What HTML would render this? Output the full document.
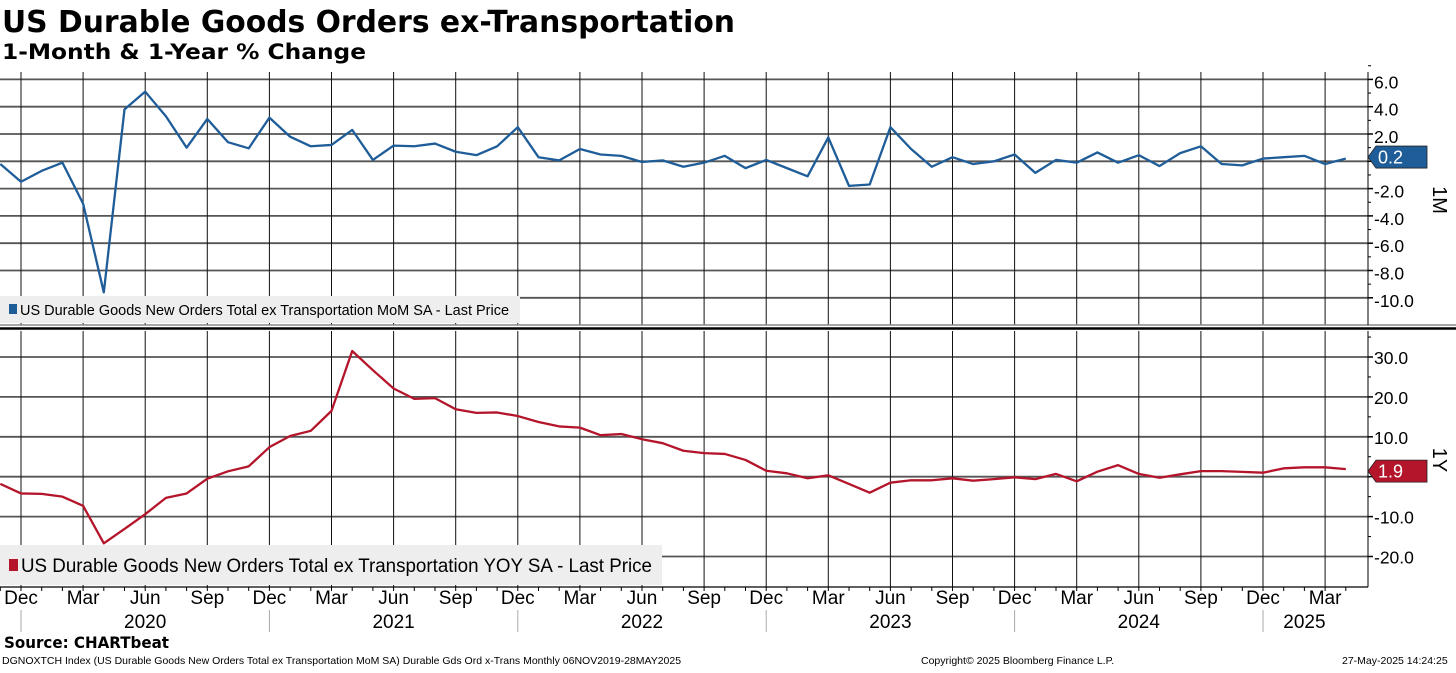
<!DOCTYPE html>
<html><head><meta charset="utf-8">
<style>
body{margin:0;background:#fff;width:1456px;height:668px;overflow:hidden;font-family:"Liberation Sans",sans-serif}
svg text{font-family:"Liberation Sans",sans-serif}
</style></head>
<body>
<svg id="chart" width="1456" height="668" viewBox="0 0 1456 668" xmlns="http://www.w3.org/2000/svg">
<text x="2" y="32" font-size="30" font-weight="bold" fill="#000" style="font-family:'DejaVu Sans',sans-serif" textLength="733" lengthAdjust="spacingAndGlyphs">US Durable Goods Orders ex-Transportation</text>
<text x="2" y="59" font-size="21" font-weight="bold" fill="#000" style="font-family:'DejaVu Sans',sans-serif" textLength="364" lengthAdjust="spacingAndGlyphs">1-Month &amp; 1-Year % Change</text>
<g id="grid"></g>
<g id="series"></g>
<g id="axes"></g>
<text x="4" y="648" font-size="16" font-weight="bold" fill="#000" style="font-family:'DejaVu Sans',sans-serif" textLength="165" lengthAdjust="spacingAndGlyphs">Source: CHARTbeat</text>
<text x="2" y="664" font-size="10.5" fill="#000">DGNOXTCH Index (US Durable Goods New Orders Total ex Transportation MoM SA) Durable Gds Ord x-Trans  Monthly 06NOV2019-28MAY2025</text>
<text x="921" y="664" font-size="10.5" fill="#000">Copyright© 2025 Bloomberg Finance L.P.</text>
<text x="1342" y="664" font-size="10.5" fill="#000">27-May-2025 14:24:25</text>
</svg>
<script>
const months = ["Nov19","Dec19","Jan20","Feb20","Mar20","Apr20","May20","Jun20","Jul20","Aug20","Sep20","Oct20","Nov20","Dec20","Jan21","Feb21","Mar21","Apr21","May21","Jun21","Jul21","Aug21","Sep21","Oct21","Nov21","Dec21","Jan22","Feb22","Mar22","Apr22","May22","Jun22","Jul22","Aug22","Sep22","Oct22","Nov22","Dec22","Jan23","Feb23","Mar23","Apr23","May23","Jun23","Jul23","Aug23","Sep23","Oct23","Nov23","Dec23","Jan24","Feb24","Mar24","Apr24","May24","Jun24","Jul24","Aug24","Sep24","Oct24","Nov24","Dec24","Jan25","Feb25","Mar25","Apr25"];
const momValues = [-0.2,-1.5,-0.7,-0.1,-3.1,-9.6,3.8,5.1,3.3,1.0,3.1,1.4,0.95,3.2,1.8,1.1,1.2,2.3,0.1,1.15,1.1,1.3,0.7,0.45,1.1,2.5,0.3,0.07,0.9,0.5,0.4,-0.05,0.07,-0.4,-0.1,0.4,-0.5,0.1,-0.5,-1.1,1.75,-1.8,-1.7,2.5,0.9,-0.4,0.3,-0.2,0.0,0.5,-0.85,0.1,-0.1,0.65,-0.1,0.45,-0.35,0.6,1.1,-0.2,-0.3,0.2,0.3,0.4,-0.2,0.2];
const yoyValues = [-1.8,-4.2,-4.3,-5.0,-7.3,-16.7,-13.1,-9.4,-5.3,-4.2,-0.5,1.35,2.6,7.4,10.2,11.5,16.5,31.5,26.7,22.1,19.5,19.7,16.9,16.0,16.1,15.2,13.7,12.6,12.3,10.4,10.7,9.4,8.4,6.5,5.9,5.7,4.2,1.5,0.85,-0.4,0.35,-1.8,-4.0,-1.5,-0.9,-0.9,-0.4,-1.0,-0.6,-0.15,-0.6,0.7,-1.15,1.25,2.9,0.7,-0.25,0.6,1.4,1.4,1.2,1.0,2.1,2.35,2.35,1.9];
const momTicks = [6,4,2,0,-2,-4,-6,-8,-10];
const momTickLabels = ["6.0","4.0","2.0","","-2.0","-4.0","-6.0","-8.0","-10.0"];
const yoyTicks = [30,20,10,0,-10,-20];
const yoyTickLabels = ["30.0","20.0","10.0","","-10.0","-20.0"];
const quarterLabels = ["Dec","Mar","Jun","Sep","Dec","Mar","Jun","Sep","Dec","Mar","Jun","Sep","Dec","Mar","Jun","Sep","Dec","Mar","Jun","Sep","Dec","Mar"];
const yearLabels = ["2020","2021","2022","2023","2024","2025"];

const NS="http://www.w3.org/2000/svg";
function mk(parent,tag,attrs){const e=document.createElementNS(NS,tag);for(const k in attrs)e.setAttribute(k,attrs[k]);parent.appendChild(e);return e;}
const X0=0.3, DX=20.7, AXX=1368;
const xAt = i => X0 + i*DX;
const yTop = v => 161.3 - v*13.65;
const yBot = v => 476.7 - v*3.99;
const grid=document.getElementById('grid'), ser=document.getElementById('series'), ax=document.getElementById('axes');

momTicks.forEach(t=>{const l=mk(grid,'line',{x1:0,x2:AXX,y1:yTop(t),y2:yTop(t),stroke:'#555','stroke-width':1.8});

});
yoyTicks.forEach(t=>{const l=mk(grid,'line',{x1:0,x2:AXX,y1:yBot(t),y2:yBot(t),stroke:'#555','stroke-width':1.8});

});
quarterLabels.forEach((q,k)=>{const x=xAt(1+3*k);
const a=mk(grid,'line',{x1:x,x2:x,y1:72,y2:325,stroke:'#111','stroke-width':1});


const b=mk(grid,'line',{x1:x,x2:x,y1:331,y2:587,stroke:'#111','stroke-width':1});


const t=mk(ax,'text',{x:x,y:604,'font-size':19,'text-anchor':'middle',fill:'#000'});t.textContent=q;

});
yearLabels.forEach((y,k)=>{const sx=xAt(1+12*k);
const s=mk(ax,'line',{x1:sx,x2:sx,y1:610,y2:632,stroke:'#aaa','stroke-width':1});


const cx = k<5 ? xAt(1+12*k+6) : xAt(1+12*k+2);
const t=mk(ax,'text',{x:cx,y:628,'font-size':19,'text-anchor':'middle',fill:'#000'});t.textContent=y;

});
const bl=mk(ax,'line',{x1:0,x2:AXX,y1:587,y2:587,stroke:'#000','stroke-width':1.2});


months.forEach((m,i)=>{const x=xAt(i);const t=mk(ax,'line',{x1:x,x2:x,y1:587,y2:591,stroke:'#000','stroke-width':1});

});

const lg1=mk(ser,'rect',{x:0,y:296,width:520,height:27,fill:'#eeeeee'});


const lg2=mk(ser,'rect',{x:0,y:545,width:662,height:40,fill:'#eeeeee'});



const p1=mk(ser,'polyline',{points:momValues.map((v,i)=>xAt(i)+','+yTop(v)).join(' '),fill:'none',stroke:'#1f5d99','stroke-width':2.3,'stroke-linejoin':'round'});


const p2=mk(ser,'polyline',{points:yoyValues.map((v,i)=>xAt(i)+','+yBot(v)).join(' '),fill:'none',stroke:'#b4152b','stroke-width':2.3,'stroke-linejoin':'round'});



const sw1=mk(ser,'rect',{x:9,y:304,width:8,height:10,fill:'#1f5d99'});


const lt1=mk(ser,'text',{x:20,y:315,'font-size':14.5,fill:'#000',textLength:489,lengthAdjust:'spacingAndGlyphs'});lt1.textContent='US Durable Goods New Orders Total ex Transportation MoM SA - Last Price';


const sw2=mk(ser,'rect',{x:9,y:559,width:9,height:12,fill:'#b4152b'});


const lt2=mk(ser,'text',{x:21,y:572,'font-size':19,fill:'#000',textLength:631,lengthAdjust:'spacingAndGlyphs'});lt2.textContent='US Durable Goods New Orders Total ex Transportation YOY SA - Last Price';



const s1=mk(ax,'line',{x1:0,x2:1456,y1:325,y2:325,stroke:'#888','stroke-width':1.5});


const s2=mk(ax,'line',{x1:0,x2:1456,y1:328.5,y2:328.5,stroke:'#000','stroke-width':2.5});



const ya1=mk(ax,'line',{x1:AXX,x2:AXX,y1:72,y2:325,stroke:'#000','stroke-width':1});


const ya2=mk(ax,'line',{x1:AXX,x2:AXX,y1:331,y2:587,stroke:'#000','stroke-width':1});


momTicks.forEach((t,k)=>{const y=yTop(t);
const tk=mk(ax,'line',{x1:AXX,x2:AXX+5,y1:y,y2:y,stroke:'#000','stroke-width':1.5});


const mn=mk(ax,'line',{x1:AXX,x2:AXX+3,y1:yTop(t+1),y2:yTop(t+1),stroke:'#000','stroke-width':1});


const lb=mk(ax,'text',{x:AXX+6,y:y+9,'font-size':17.5,fill:'#000'});lb.textContent=momTickLabels[k];

});
yoyTicks.forEach((t,k)=>{const y=yBot(t);
const tk=mk(ax,'line',{x1:AXX,x2:AXX+5,y1:y,y2:y,stroke:'#000','stroke-width':1.5});


const mn=mk(ax,'line',{x1:AXX,x2:AXX+3,y1:yBot(t+5),y2:yBot(t+5),stroke:'#000','stroke-width':1});


const lb=mk(ax,'text',{x:AXX+6,y:y+7,'font-size':17.5,fill:'#000'});lb.textContent=yoyTickLabels[k];

});

const at1=mk(ax,'text',{x:1433,y:200,'font-size':20,fill:'#000',transform:'rotate(90 1433 200)','text-anchor':'middle'});at1.textContent='1M';


const at2=mk(ax,'text',{x:1433,y:460,'font-size':20,fill:'#000',transform:'rotate(90 1433 460)','text-anchor':'middle'});at2.textContent='1Y';



function tag(v,y,color,name){
const poly=mk(ax,'polygon',{points:`${AXX},${y} ${AXX+8},${y-11} ${AXX+59},${y-11} ${AXX+59},${y+11} ${AXX+8},${y+11}`,fill:color,stroke:'#222','stroke-width':0.8});


const t=mk(ax,'text',{x:AXX+10,y:y+6.5,'font-size':18,fill:'#fff'});t.textContent=v.toFixed(1);

}
tag(momValues[momValues.length-1],yTop(momValues[momValues.length-1])-1.5,'#1f5d99','mom-last-value-tag');
tag(yoyValues[yoyValues.length-1],yBot(yoyValues[yoyValues.length-1])+2,'#b4152b','yoy-last-value-tag');
</script>
</body></html>
